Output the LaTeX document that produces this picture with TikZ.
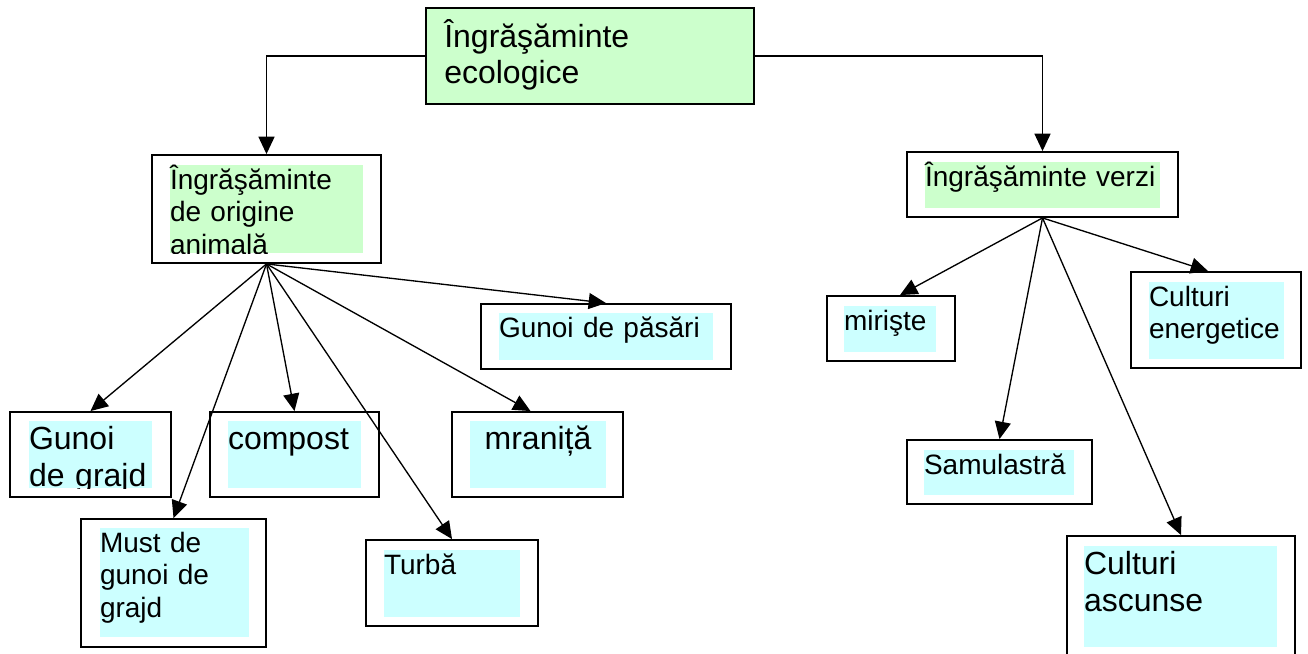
\documentclass[tikz,border=0pt]{standalone}
\usepackage{fontspec}
\setmainfont{Liberation Sans}
\usetikzlibrary{arrows.meta, fit, calc}
\definecolor{greenbg}{HTML}{CCFFCC}
\definecolor{cyanbg}{HTML}{CCFFFF}

\begin{document}
\begin{tikzpicture}[x=0.75pt, y=-0.75pt,
    box/.style={draw, line width=1.4pt, fill=white, inner sep=0pt},
    greenfill/.style={fill=greenbg, inner sep=0pt},
    cyanfill/.style={fill=cyanbg, inner sep=0pt},
    boxtext/.style={anchor=base west, inner sep=0pt, align=left, text width=300pt},
    bigtext/.style={boxtext, font=\fontsize{24}{27.6}\selectfont},
    midtext/.style={boxtext, font=\fontsize{21}{24.15}\selectfont},
    conn/.style={line width=1pt, -{Triangle[length=13pt, width=12pt]}}]
    \useasboundingbox (0,0) rectangle (1308,653);
    % Top
    \node[box, fill=greenbg, fit={(426,8) (754,104)}] (eco) {};
    \node[bigtext] (eco-txt) at (444,47) {Îngrăşăminte\\ecologice};
    % Left branch
    \node[box, fit={(152,155) (381,263)}] (anim) {};
    \node[greenfill, fit={(170,165) (363,253)}] (anim-in) {};
    \begin{scope}
        \clip (anim-in.north west) rectangle (anim-in.south east);
        \node[midtext] (anim-txt) at ($(anim-in.north west)+(0,25)$) {Îngrăşăminte\\de origine\\animală};
    \end{scope}
    \node[box, fit={(481,304) (731,369)}] (pasari) {};
    \node[cyanfill, fit={(499,313) (713,360)}] (pasari-in) {};
    \node[midtext] (pasari-txt) at ($(pasari-in.north west)+(0,25)$) {Gunoi de păsări};
    \node[box, fit={(10,412) (171,497)}] (grajd) {};
    \node[cyanfill, fit={(29,421) (152,488)}] (grajd-in) {};
    \begin{scope}
        \clip (grajd-in.north west) rectangle (grajd-in.south east);
        \node[bigtext] (grajd-txt) at ($(grajd-in.north west)+(0,29)$) {Gunoi\\de grajd};
    \end{scope}
    \node[box, fit={(210,412) (379,497)}] (compost) {};
    \node[cyanfill, fit={(228,421) (361,488)}] (compost-in) {};
    \node[bigtext] (compost-txt) at ($(compost-in.north west)+(0,29)$) {compost};
    \node[box, fit={(452,412) (623,497)}] (mranita) {};
    \node[cyanfill, fit={(470,421) (606,488)}] (mranita-in) {};
    \node[bigtext, anchor=base, text width=, align=center] (mranita-txt) at ($(mranita-in.north)+(0,29)$) {mraniță};
    \node[box, fit={(81,519) (266,647)}] (must) {};
    \node[cyanfill, fit={(100,528) (249,637)}] (must-in) {};
    \node[midtext] (must-txt) at ($(must-in.north west)+(0,25)$) {Must de\\gunoi de\\grajd};
    \node[box, fit={(366,540) (538,626)}] (turba) {};
    \node[cyanfill, fit={(384,550) (520,617)}] (turba-in) {};
    \node[midtext] (turba-txt) at ($(turba-in.north west)+(0,25)$) {Turbă};
    % Right branch
    \node[box, fit={(907,152) (1178,217)}] (verzi) {};
    \node[greenfill, fit={(925,162) (1160,208)}] (verzi-in) {};
    \node[midtext] (verzi-txt) at ($(verzi-in.north west)+(0,25)$) {Îngrăşăminte verzi};
    \node[box, fit={(827,296) (955,361)}] (miriste) {};
    \node[cyanfill, fit={(844,306) (936,352)}] (miriste-in) {};
    \node[midtext] (miriste-txt) at ($(miriste-in.north west)+(0,25)$) {mirişte};
    \node[box, fit={(1131,272) (1301,368)}] (energ) {};
    \node[cyanfill, fit={(1149,282) (1284,359)}] (energ-in) {};
    \node[midtext] (energ-txt) at ($(energ-in.north west)+(0,25)$) {Culturi\\energetice};
    \node[box, fit={(907,440) (1092,504)}] (samul) {};
    \node[cyanfill, fit={(924,450) (1074,495)}] (samul-in) {};
    \node[midtext] (samul-txt) at ($(samul-in.north west)+(0,25)$) {Samulastră};
    \node[box, fit={(1067,536) (1295,665)}] (ascunse) {};
    \node[cyanfill, fit={(1084,546) (1277,647)}] (ascunse-in) {};
    \node[bigtext] (ascunse-txt) at ($(ascunse-in.north west)+(0,29)$) {Culturi\\ascunse};
    % Connectors
    \draw[conn] (eco.west) -| (anim.north);
    \draw[conn] (eco.east) -| (verzi.north);
    \foreach \t in {grajd, must, compost, turba, pasari}
        \draw[conn] (anim.south) -- (\t.north);
    \draw[conn] (anim.south) -- ($(mranita.north)+(-7,0)$);
    \draw[conn] (verzi.south) -- ($(miriste.north)+(9,0)$);
    \draw[conn] (verzi.south) -- ($(energ.north)+(-8,0)$);
    \foreach \t in {samul, ascunse}
        \draw[conn] (verzi.south) -- (\t.north);
\end{tikzpicture}
\end{document}
